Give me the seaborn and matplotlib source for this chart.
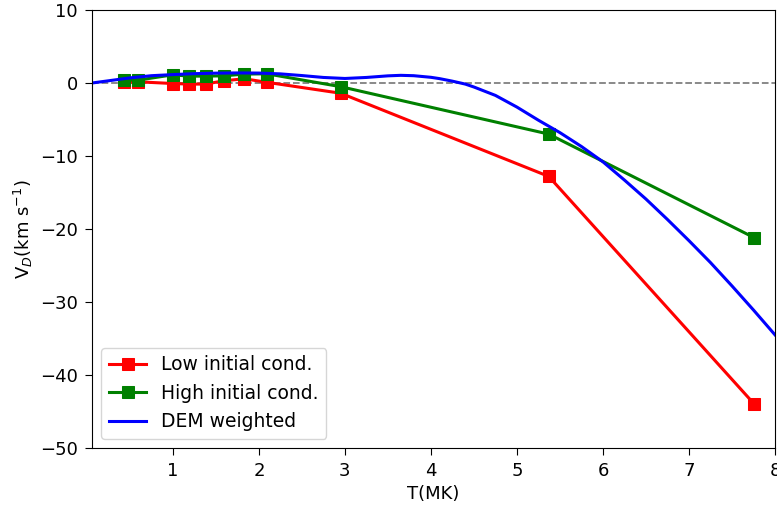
import matplotlib
matplotlib.use("Agg")
import matplotlib.pyplot as plt
import seaborn as sns
import pandas as pd

# Data
T_points = [0.43, 0.60, 1.00, 1.19, 1.38, 1.59, 1.83, 2.09, 2.95, 5.37, 7.76]
v_low = [0.07, 0.16, -0.07, -0.15, -0.15, 0.30, 0.58, 0.10, -1.4, -12.8, -44.0]
v_high = [0.40, 0.40, 1.12, 0.94, 0.94, 0.98, 1.22, 1.26, -0.5, -7.0, -21.2]

T_dem = [0.06, 0.25, 0.5, 0.75, 1.0, 1.25, 1.5, 1.75, 2.0, 2.25, 2.5, 2.75,
         3.0, 3.25, 3.5, 3.65, 3.8, 4.0, 4.1, 4.25, 4.4, 4.5, 4.75, 5.0,
         5.25, 5.5, 5.75, 6.0, 6.25, 6.5, 6.75, 7.0, 7.25, 7.5, 7.75, 8.0]
v_dem = [0.0, 0.3, 0.7, 1.0, 1.15, 1.28, 1.35, 1.38, 1.36, 1.25, 1.02, 0.76,
         0.62, 0.76, 0.98, 1.05, 1.0, 0.78, 0.6, 0.25, -0.15, -0.55, -1.7, -3.3,
         -5.1, -6.8, -8.7, -10.8, -13.3, -15.9, -18.7, -21.6, -24.6, -27.8, -31.1, -34.5]

labels = ["Low initial cond.", "High initial cond.", "DEM weighted"]

plt.rcParams['font.size'] = 12.5
fig = plt.figure(figsize=(7.77, 5.07), dpi=100)
ax = fig.add_axes([92/777, (507-448)/507, (775-92)/777, (448-10)/507])

df_low = pd.DataFrame({"T": T_points, "V": v_low})
df_high = pd.DataFrame({"T": T_points, "V": v_high})
df_dem = pd.DataFrame({"T": T_dem, "V": v_dem})

ax.axhline(0, color="grey", linestyle="--", linewidth=1.3, zorder=1)
sns.lineplot(data=df_low, x="T", y="V", ax=ax, color="red", marker="s",
             markersize=9, markeredgecolor="red", linewidth=2.2, label=labels[0],
             sort=False, estimator=None)
sns.lineplot(data=df_high, x="T", y="V", ax=ax, color="green", marker="s",
             markersize=9, markeredgecolor="green", linewidth=2.2, label=labels[1],
             sort=False, estimator=None)
sns.lineplot(data=df_dem, x="T", y="V", ax=ax, color="blue", linewidth=2.2,
             label=labels[2], sort=False, estimator=None)

ax.set_xlim(0.06, 8)
ax.set_ylim(-50, 10)
ax.set_xticks([1, 2, 3, 4, 5, 6, 7, 8])
ax.set_yticks([-50, -40, -30, -20, -10, 0, 10])
ax.tick_params(labelsize=13, length=5, pad=5)
ax.set_xlabel("T(MK)", fontsize=13)
ax.set_ylabel(r"V$_D$(km s$^{-1}$)", fontsize=13)
ax.legend(loc="lower left", fontsize=13.5)

fig.savefig("out.png", dpi=100)
